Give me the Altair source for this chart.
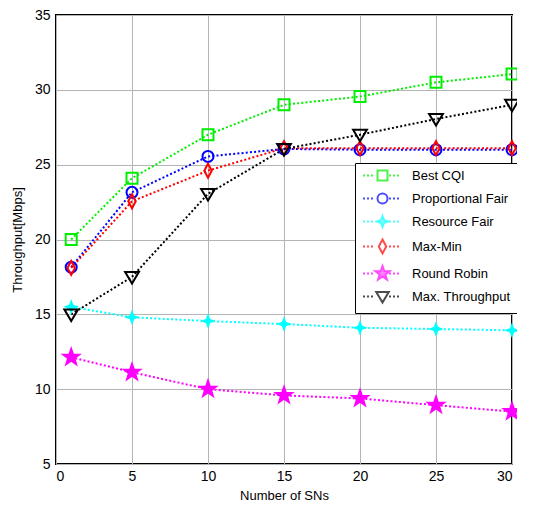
import math
import altair as alt
import pandas as pd

# ---- data ----
sns = [1, 5, 10, 15, 20, 25, 30]
series_names = ["Best CQI", "Proportional Fair", "Resource Fair", "Max-Min", "Round Robin", "Max. Throughput"]
best_cqi = [20.0, 24.1, 27.0, 29.0, 29.55, 30.5, 31.05]
prop_fair = [18.15, 23.15, 25.55, 26.05, 26.0, 26.0, 26.0]
resource_fair = [15.5, 14.8, 14.55, 14.35, 14.1, 14.02, 13.93]
max_min = [18.1, 22.55, 24.6, 26.1, 26.1, 26.1, 26.1]
round_robin = [12.13, 11.13, 10.0, 9.58, 9.38, 8.93, 8.5]
max_thr = [15.0, 17.5, 23.05, 26.05, 27.0, 28.05, 29.0]
values = [best_cqi, prop_fair, resource_fair, max_min, round_robin, max_thr]

colors = ["#00ee00", "#0000ff", "#00ffff", "#ff0000", "#ff00ff", "#000000"]
fills = ["transparent", "transparent", "#00ffff", "transparent", "#ff00ff", "transparent"]

rows = []
for name, vals in zip(series_names, values):
    for x, y in zip(sns, vals):
        rows.append({"x": x, "y": y, "series": name})
df = pd.DataFrame(rows)

# ---- marker geometry (unit paths) ----
def star_path(ro, ri):
    pts = []
    for i in range(10):
        a = -math.pi / 2 + i * math.pi / 5
        r = ro if i % 2 == 0 else ri
        pts.append(f"{r*math.cos(a):.3f},{r*math.sin(a):.3f}")
    return "M" + "L".join(pts) + "Z"

square_p = "M-1,-1H1V1H-1Z"
circle_p = "M-1,0A1,1 0 1,0 1,0A1,1 0 1,0 -1,0Z"
plus_p = "M0,-1.1L0.3,-0.3L1.1,0L0.3,0.3L0,1.1L-0.3,0.3L-1.1,0L-0.3,-0.3Z"
diamond_p = "M0,-1.4L0.75,0L0,1.4L-0.75,0Z"
star_p = star_path(1.5, 0.6)
tri_p = "M-1.25,-0.9L1.25,-0.9L0,1.2Z"
markers = [square_p, circle_p, plus_p, diamond_p, star_p, tri_p]

def dots(a, b):
    segs = []
    x = a
    while x + 0.35 <= b + 1e-9:
        segs.append(f"M{x:.2f},0L{x + 0.4:.2f},0")
        x += 0.8
    return "".join(segs)

legend_paths = [dots(-3.9, -1.3) + m + dots(1.3, 3.9) for m in markers]

plot_scale = [5.5, 5.5, 4.5, 5.0, 5.5, 5.5]

xs = alt.X("x:Q", scale=alt.Scale(domain=[0, 30], nice=False),
           axis=alt.Axis(values=[0, 5, 10, 15, 20, 25, 30], title="Number of SNs"))
ys = alt.Y("y:Q", scale=alt.Scale(domain=[5, 35], nice=False),
           axis=alt.Axis(values=[5, 10, 15, 20, 25, 30, 35], title="Throughput[Mbps]"))

layers = []
for name, col, fl, m, r in zip(series_names, colors, fills, markers, plot_scale):
    sub = alt.Chart(df).transform_filter(alt.datum.series == name)
    layers.append(sub.mark_line(strokeWidth=2, strokeDash=[2, 2.2], stroke=col).encode(x=xs, y=ys))
for name, col, fl, m, r in zip(series_names, colors, fills, markers, plot_scale):
    sub = alt.Chart(df).transform_filter(alt.datum.series == name)
    layers.append(
        sub.mark_point(shape=m, size=(2 * r) ** 2, stroke=col, fill=fl, strokeWidth=2,
                       opacity=1, filled=False).encode(x=xs, y=ys)
    )

# legend-only layer: its points are moved outside the plot and clipped
leg = alt.Legend(orient="none", legendX=299, legendY=148, title=None, zindex=1)
legend_layer = alt.Chart(df).transform_calculate(y="-1000").mark_point(
    strokeWidth=2, clip=True, filled=False
).encode(
    x=xs, y=ys,
    color=alt.Color("series:N", scale=alt.Scale(domain=series_names, range=colors), title=None, legend=leg),
    fill=alt.Fill("series:N", scale=alt.Scale(domain=series_names, range=fills), title=None, legend=leg),
    shape=alt.Shape("series:N", scale=alt.Scale(domain=series_names, range=legend_paths), title=None, legend=leg),
)
layers.append(legend_layer)

chart = alt.layer(*layers).properties(
    width=456, height=449,
    autosize=alt.AutoSizeParams(type="none"),
    padding={"left": 48, "top": 7, "right": 5, "bottom": 38},
).configure_view(
    stroke="black", strokeWidth=2
).configure_axis(
    labelFont="Liberation Sans", labelFontSize=14, labelColor="black",
    titleFont="Liberation Sans", titleFontSize=13, titleFontWeight="normal", titleColor="black",
    grid=True, gridColor="#b4b4b4", gridWidth=1, ticks=False, domain=False,
).configure_axisX(
    labelPadding=5, titlePadding=6
).configure_axisY(
    labelPadding=6, titlePadding=10
).configure_legend(
    labelFont="Liberation Sans", labelFontSize=13, labelColor="black",
    symbolSize=100, symbolStrokeWidth=2, symbolOffset=15, labelOffset=23,
    rowPadding=4, padding=6, strokeColor="black", fillColor="white",
    cornerRadius=0,
)

chart.save("out.html", embed_options={"renderer": "svg", "actions": False})
